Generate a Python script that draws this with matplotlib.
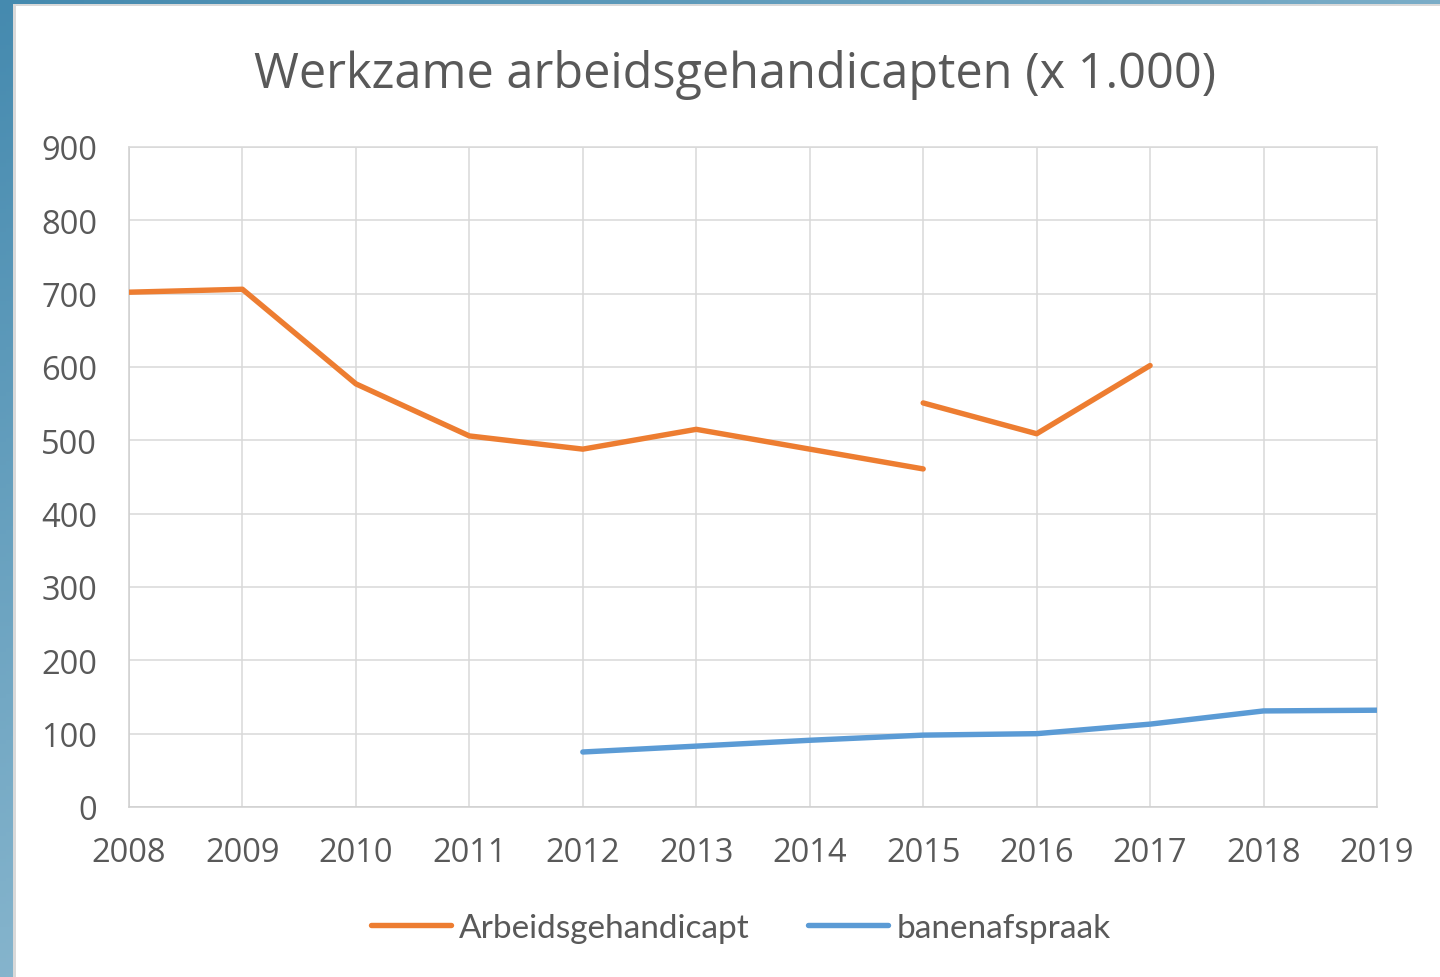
import numpy as np
import matplotlib
matplotlib.use("Agg")
import matplotlib.pyplot as plt
from matplotlib.patches import Rectangle
from matplotlib.lines import Line2D

# ---- data ----
years = [2008, 2009, 2010, 2011, 2012, 2013, 2014, 2015, 2016, 2017, 2018, 2019]
arbeid_years_a = [2008, 2009, 2010, 2011, 2012, 2013, 2014, 2015]
arbeid_a = [702, 706, 577, 506, 488, 515, 488, 461]
arbeid_years_b = [2015, 2016, 2017]
arbeid_b = [551, 509, 602]
banen_years = [2012, 2013, 2014, 2015, 2016, 2017, 2018, 2019]
banen = [75, 83, 91, 98, 100, 113, 131, 132]
yticks = [0, 100, 200, 300, 400, 500, 600, 700, 800, 900]

title = "Werkzame arbeidsgehandicapten (x 1.000)"
label_a = "Arbeidsgehandicapt"
label_b = "banenafspraak"

ORANGE = "#ED7D31"
BLUE = "#5B9BD5"
TXT = "#595959"
GRID = "#D9D9D9"
LW = 3.9

W, H = 1440, 978
fig = plt.figure(figsize=(W / 100, H / 100), dpi=100)

# background gradient frame
bg = fig.add_axes([0, 0, 1, 1], zorder=-10)
bg.axis("off")
gx = np.linspace(0, 1, 256)
gy = np.linspace(0, 1, 256)
GX, GY = np.meshgrid(gx, gy)
t = np.clip(0.5 * GX + 0.6 * GY, 0, 1)
c0 = np.array([0x45, 0x8A, 0xAF]) / 255
c1 = np.array([0xB0, 0xD0, 0xE0]) / 255
img = c0[None, None, :] * (1 - t[..., None]) + c1[None, None, :] * t[..., None]
bg.imshow(img, extent=[0, W, H, 0], origin="upper", aspect="auto")
bg.set_xlim(0, W)
bg.set_ylim(H, 0)
bg.add_patch(Rectangle((13, 5), W - 13, H - 5, facecolor="#D9D9D9", edgecolor="none"))
bg.add_patch(Rectangle((16, 7), W - 16, H - 7, facecolor="white", edgecolor="none"))

# main axes
L, R, T, B = 129, 1377, 148, 808
ax = fig.add_axes([L / W, 1 - B / H, (R - L) / W, (B - T) / H])
ax.set_facecolor("none")
ax.plot(arbeid_years_a, arbeid_a, color=ORANGE, lw=LW, solid_capstyle="round", solid_joinstyle="round", zorder=3)
ax.plot(arbeid_years_b, arbeid_b, color=ORANGE, lw=LW, solid_capstyle="round", solid_joinstyle="round", zorder=3)
ax.plot(banen_years, banen, color=BLUE, lw=LW, solid_capstyle="round", solid_joinstyle="round", zorder=3)

ax.set_xlim(years[0], years[-1])
ax.set_ylim(yticks[0], yticks[-1])
ax.set_xticks(years)
ax.set_xticklabels([str(y) for y in years])
ax.set_yticks(yticks)
ax.set_yticklabels([str(v) for v in yticks])
ax.grid(True, color=GRID, lw=1.1, zorder=0)
ax.set_axisbelow(True)
for s in ax.spines.values():
    s.set_color(GRID)
    s.set_linewidth(1.1)
ax.spines["left"].set_color("#CFCFCF")
ax.spines["bottom"].set_color("#CFCFCF")
ax.tick_params(length=0, colors=TXT, labelsize=23.5)
ax.tick_params(axis="y", pad=23)
ax.tick_params(axis="x", pad=21)
for lab in ax.get_xticklabels() + ax.get_yticklabels():
    lab.set_fontfamily("Open Sans")

fig.text(735 / W, 1 - 75 / H, title, ha="center", va="center", fontsize=35,
         color=TXT, family="Open Sans")

handles = [Line2D([], [], color=ORANGE, lw=LW, solid_capstyle="round"),
           Line2D([], [], color=BLUE, lw=LW, solid_capstyle="round")]
leg = fig.legend(handles, [label_a, label_b], loc="center",
                 bbox_to_anchor=(741 / W, 1 - 929 / H), ncol=2, frameon=False,
                 prop={"family": "Lato", "size": 24}, handlelength=2.4,
                 handletextpad=0.24, columnspacing=1.75)
for tx in leg.get_texts():
    tx.set_color(TXT)

fig.savefig("out.png", dpi=100)
